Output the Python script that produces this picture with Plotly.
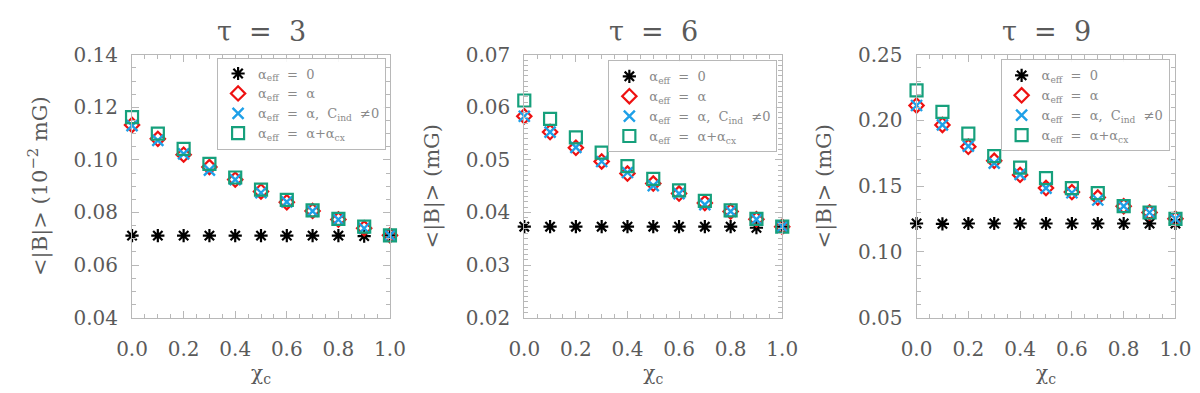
import plotly.graph_objects as go

# ---------------- data ----------------
chi_c = [0.0, 0.1, 0.2, 0.3, 0.4, 0.5, 0.6, 0.7, 0.8, 0.9, 1.0]

# tau = 3  (units 1e-2 mG)
t3_eff0  = [0.0712, 0.0712, 0.0712, 0.0712, 0.0712, 0.0712, 0.0712, 0.0712, 0.0712, 0.0710, 0.0713]
t3_alpha = [0.1133, 0.1080, 0.1020, 0.0973, 0.0925, 0.0880, 0.0839, 0.0806, 0.0773, 0.0740, 0.0713]
t3_cind  = [0.1130, 0.1074, 0.1023, 0.0961, 0.0925, 0.0875, 0.0840, 0.0805, 0.0773, 0.0740, 0.0713]
t3_cx    = [0.1163, 0.1100, 0.1042, 0.0985, 0.0933, 0.0887, 0.0848, 0.0808, 0.0776, 0.0746, 0.0713]

# tau = 6  (mG)
t6_eff0  = [0.0373, 0.0373, 0.0373, 0.0373, 0.0373, 0.0373, 0.0373, 0.0373, 0.0373, 0.0371, 0.0373]
t6_alpha = [0.0583, 0.0553, 0.0523, 0.0497, 0.0474, 0.0455, 0.0436, 0.0418, 0.0402, 0.0387, 0.0373]
t6_cind  = [0.0583, 0.0553, 0.0524, 0.0497, 0.0476, 0.0451, 0.0436, 0.0415, 0.0402, 0.0387, 0.0373]
t6_cx    = [0.0613, 0.0578, 0.0543, 0.0514, 0.0488, 0.0464, 0.0442, 0.0422, 0.0404, 0.0388, 0.0373]

# tau = 9  (mG)
t9_eff0  = [0.1216, 0.1214, 0.1216, 0.1216, 0.1216, 0.1216, 0.1216, 0.1216, 0.1216, 0.1216, 0.1216]
t9_alpha = [0.2114, 0.1966, 0.1800, 0.1693, 0.1586, 0.1486, 0.1455, 0.1414, 0.1348, 0.1300, 0.1252]
t9_cind  = [0.2114, 0.1966, 0.1805, 0.1676, 0.1590, 0.1486, 0.1450, 0.1395, 0.1348, 0.1300, 0.1252]
t9_cx    = [0.2229, 0.2066, 0.1900, 0.1729, 0.1641, 0.1562, 0.1486, 0.1448, 0.1348, 0.1300, 0.1252]

panel_titles = ["τ\u00a0\u00a0=\u00a0\u00a03", "τ\u00a0\u00a0=\u00a0\u00a06", "τ\u00a0\u00a0=\u00a0\u00a09"]
y_titles = ["&lt;|B|&gt; (10<sup>−2</sup> mG)", "&lt;|B|&gt; (mG)", "&lt;|B|&gt; (mG)"]
x_title = "χ<sub>c</sub>"
legend_names = [
    "α<sub>eff</sub>\u00a0\u00a0=\u00a0\u00a00",
    "α<sub>eff</sub>\u00a0\u00a0=\u00a0\u00a0α",
    "α<sub>eff</sub>\u00a0\u00a0=\u00a0\u00a0α,\u00a0\u00a0C<sub>ind</sub>\u00a0\u00a0≠0",
    "α<sub>eff</sub>\u00a0\u00a0=\u00a0\u00a0α+α<sub>cx</sub>",
]

panels = [
    (t3_eff0, t3_alpha, t3_cind, t3_cx),
    (t6_eff0, t6_alpha, t6_cind, t6_cx),
    (t9_eff0, t9_alpha, t9_cind, t9_cx),
]
y_ranges = [[0.04, 0.14], [0.02, 0.07], [0.05, 0.25]]
y_dticks = [0.02, 0.01, 0.05]
y_minor = [0.005, 0.001, 0.01]

# ---------------- style ----------------
FONT = "DejaVu Serif"
TXT = "#5a5a5a"
AX = "#b8b8b8"
LEG_TXT = "#8a8a8a"
styles = [
    dict(symbol="asterisk-open", color="black", size=11, lw=2.2),
    dict(symbol="diamond-open", color="#ee1111", size=11, lw=2.2),
    dict(symbol="x-thin-open", color="#1ea0e8", size=11, lw=2.4),
    dict(symbol="square-open", color="#16a07c", size=12, lw=2.2),
]

x_domains = [[111/1200, 376/1200], [514/1200, 779/1200], [917/1200, 1183/1200]]
y_domain = [1 - 317/393, 1 - 37/393]
legend_pos = [(372/1200, 1 - 40/393), (774/1200, 1 - 43/393), (1177/1200, 1 - 42/393)]

fig = go.Figure()
for p, series in enumerate(panels):
    xa = "x" if p == 0 else f"x{p+1}"
    ya = "y" if p == 0 else f"y{p+1}"
    lg = "legend" if p == 0 else f"legend{p+1}"
    for s, vals in enumerate(series):
        st = styles[s]
        fig.add_trace(go.Scatter(
            x=chi_c, y=vals, mode="markers", name=legend_names[s],
            xaxis=xa, yaxis=ya, legend=lg, cliponaxis=False,
            marker=dict(symbol=st["symbol"], size=st["size"], color=st["color"],
                        line=dict(color=st["color"], width=st["lw"])),
        ))

layout = dict(
    width=1200, height=393,
    margin=dict(l=0, r=0, t=0, b=0),
    paper_bgcolor="white", plot_bgcolor="white",
    font=dict(family=FONT, color=TXT, size=20),
    annotations=[],
)

for p in range(3):
    sfx = "" if p == 0 else str(p + 1)
    common = dict(
        showline=True, linecolor=AX, linewidth=1, mirror="allticks",
        ticks="inside", ticklen=7, tickcolor=AX, tickwidth=1,
        showgrid=False, zeroline=False,
        tickfont=dict(family=FONT, size=20, color=TXT),
    )
    layout["xaxis" + sfx] = dict(
        common, domain=x_domains[p], range=[0, 1], dtick=0.2, tick0=0,
        tickformat=".1f", anchor="y" + sfx, ticklabelstandoff=13,
        minor=dict(dtick=0.05, ticks="inside", ticklen=4, tickcolor=AX, showgrid=False),
        title=dict(text=x_title, font=dict(family=FONT, size=20, color=TXT), standoff=6),
    )
    layout["yaxis" + sfx] = dict(
        common, domain=y_domain, range=y_ranges[p], dtick=y_dticks[p], tick0=0,
        tickformat=".2f", anchor="x" + sfx, ticklabelstandoff=9,
        minor=dict(dtick=y_minor[p], ticks="inside", ticklen=4, tickcolor=AX, showgrid=False),
        title=dict(text=y_titles[p], font=dict(family=FONT, size=21, color=TXT), standoff=20),
    )
    lx, ly = legend_pos[p]
    layout["legend" if p == 0 else f"legend{p+1}"] = dict(
        x=lx, y=ly, xref="paper", yref="paper", xanchor="right", yanchor="top",
        bgcolor="rgba(255,255,255,0.9)", bordercolor=AX, borderwidth=1,
        font=dict(family=FONT, size=13, color=LEG_TXT),
        tracegroupgap=0, itemsizing="trace",
    )
    cx = (x_domains[p][0] + x_domains[p][1]) / 2
    layout["annotations"].append(dict(
        text=panel_titles[p], x=cx, y=1 - 12/393, xref="paper", yref="paper",
        xanchor="center", yanchor="middle", showarrow=False,
        font=dict(family=FONT, size=27, color=TXT),
    ))

fig.update_layout(**layout)
fig.write_html("out.html")
